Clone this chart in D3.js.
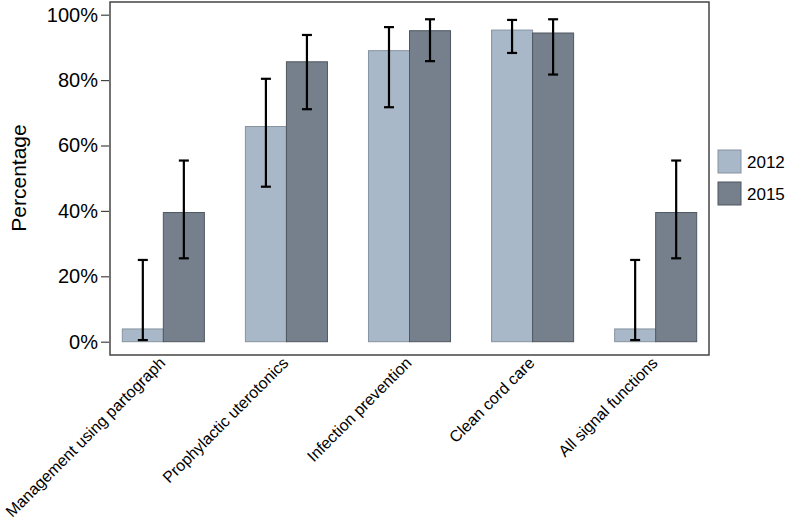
<!DOCTYPE html>
<html><head><meta charset="utf-8">
<script src="https://cdn.jsdelivr.net/npm/d3@7"></script>
<style>body{margin:0;background:#fff}svg{display:block}text{font-family:"Liberation Sans",Arial,sans-serif}</style>
</head><body>
<svg id="chart" width="787" height="523"></svg>
<script>
const categories = ["Management using partograph","Prophylactic uterotonics","Infection prevention","Clean cord care","All signal functions"];
const years = ["2012","2015"];
const values2012 = [3.9, 65.8, 89.0, 95.3, 3.9];
const lower2012 = [0.5, 47.4, 71.7, 88.3, 0.5];
const upper2012 = [25.0, 80.4, 96.2, 98.4, 25.0];
const values2015 = [39.5, 85.6, 95.1, 94.4, 39.5];
const lower2015 = [25.5, 71.1, 85.8, 81.7, 25.5];
const upper2015 = [55.4, 93.8, 98.6, 98.6, 55.4];
const yTicks = [0, 20, 40, 60, 80, 100];

const colors = {"2012": "#a9b8c8", "2015": "#75808c"};
const strokes = {"2012": "#8793a0", "2015": "#4f5760"};

const svg = d3.select("#chart");
const frame = {left: 110, top: 2, right: 709, bottom: 355};

const x = d3.scaleBand().domain(categories).range([frame.left, frame.right]).paddingInner(1/3).paddingOuter(0.1);
const xs = d3.scaleBand().domain(years).range([0, x.bandwidth()]);
const y = d3.scaleLinear().domain([0, 100]).range([341.7, 14.7]);

const data = [];
categories.forEach((c, i) => {
  data.push({cat: c, year: "2012", v: values2012[i], lo: lower2012[i], hi: upper2012[i]});
  data.push({cat: c, year: "2015", v: values2015[i], lo: lower2015[i], hi: upper2015[i]});
});

// bars
svg.append("g").selectAll("rect").data(data).join("rect")
  .attr("x", d => x(d.cat) + xs(d.year))
  .attr("y", d => y(d.v))
  .attr("width", xs.bandwidth())
  .attr("height", d => y(0) - y(d.v))
  .attr("fill", d => colors[d.year])
  .attr("stroke", d => strokes[d.year])
  .attr("stroke-width", 1);

// error bars
const eb = svg.append("g").attr("stroke", "#000").attr("stroke-width", 2.2).attr("fill", "none");
data.forEach(d => {
  const cx = x(d.cat) + xs(d.year) + xs.bandwidth() / 2;
  eb.append("line").attr("x1", cx).attr("x2", cx).attr("y1", y(d.lo)).attr("y2", y(d.hi));
  eb.append("line").attr("x1", cx - 5).attr("x2", cx + 5).attr("y1", y(d.lo)).attr("y2", y(d.lo));
  eb.append("line").attr("x1", cx - 5).attr("x2", cx + 5).attr("y1", y(d.hi)).attr("y2", y(d.hi));
});

// frame
svg.append("rect").attr("x", frame.left).attr("y", frame.top)
  .attr("width", frame.right - frame.left).attr("height", frame.bottom - frame.top)
  .attr("fill", "none").attr("stroke", "#444").attr("stroke-width", 1.5);

// y axis
const yAxis = d3.axisLeft(y).tickValues(yTicks).tickFormat(d => d + "%").tickSize(8).tickPadding(3);
const ga = svg.append("g").attr("transform", `translate(${frame.left - 1},0)`).call(yAxis);
ga.select(".domain").remove();
ga.selectAll(".tick line").attr("stroke", "#444").attr("stroke-width", 1.2);
ga.selectAll(".tick text").attr("font-size", 20).attr("fill", "#000").attr("font-family", '"Liberation Sans",Arial,sans-serif');

svg.append("text").attr("transform", "translate(26,178) rotate(-90)")
  .attr("text-anchor", "middle").attr("font-size", 21).attr("fill", "#000").text("Percentage");

// x labels
svg.append("g").selectAll("text").data(categories).join("text")
  .attr("transform", d => `translate(${x(d) + x.bandwidth() / 2 + 3},${frame.bottom + 9}) rotate(-45)`)
  .attr("text-anchor", "end").attr("font-size", 16).attr("fill", "#000")
  .text(d => d);

// legend
const lg = svg.append("g");
years.forEach((yr, i) => {
  lg.append("rect").attr("x", 718).attr("y", 150 + i * 32).attr("width", 23).attr("height", 23)
    .attr("fill", colors[yr]).attr("stroke", strokes[yr]).attr("stroke-width", 1);
  lg.append("text").attr("x", 747).attr("y", 168 + i * 32).attr("font-size", 17).attr("fill", "#000").text(yr);
});
</script>
</body></html>
